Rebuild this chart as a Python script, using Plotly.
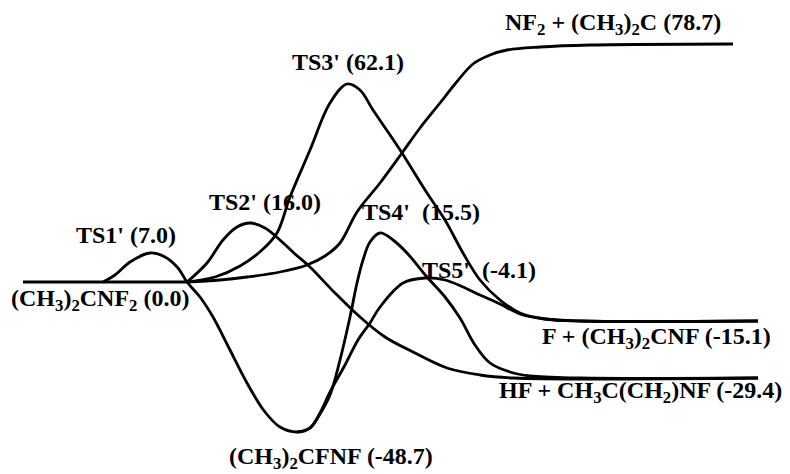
"""
Potential energy profile for the (CH3)2CNF2 reaction paths
(schematic, levels drawn relative to the reactant at 0)
"""

import plotly.graph_objects as go

# reaction coordinate / drawn level of each traced path (reactant level = 0)
base_x = [23, 190]
base_y = [0, 0]

# TS1' -> (CH3)2CFNF well -> TS4' -> HF + CH3C(CH2)NF
ts4_x = [103, 115, 130, 150, 165, 178, 187, 200, 213, 230, 247, 265, 280, 297, 310,
         320, 330, 340, 350, 357, 363, 370, 380, 393, 407, 427, 445, 460, 475, 490,
         510, 530, 580, 758]
ts4_y = [0, 7, 20, 29, 25, 14, 0, -15, -35, -68, -101, -130, -145, -150, -146,
         -132, -113, -78, -35, -1, 22, 40, 49, 42, 29, 5, -15, -36, -63, -81,
         -90, -94, -96, -96]

# reactant -> TS2' -> HF + CH3C(CH2)NF
ts2_x = [187, 207, 223, 237, 250, 265, 280, 295, 310, 335, 360, 385, 413, 447, 480, 513, 758]
ts2_y = [0, 19, 42, 55, 59, 54, 42, 28, 15, -11, -35, -55, -70, -86, -93, -96, -96]

# reactant -> TS3' -> F + (CH3)2CNF
ts3_x = [187, 215, 240, 262, 277, 290, 310, 330, 347, 360, 373, 388, 402, 427, 445,
         463, 480, 500, 520, 545, 580, 758]
ts3_y = [0, 5, 16, 32, 49, 85, 132, 179, 198, 192, 172, 150, 129, 89, 62,
         29, 2, -18, -31, -37, -39, -39]

# reactant -> NF2 + (CH3)2C
nf2_x = [187, 220, 247, 280, 307, 325, 340, 357, 380, 402, 420, 440, 455, 473,
         490, 507, 540, 590, 733]
nf2_y = [0, 2, 5, 10, 17, 26, 39, 70, 99, 129, 154, 179, 198, 218,
         227, 232, 235, 237, 238]

# (CH3)2CFNF well -> TS5' -> F + (CH3)2CNF
ts5_x = [297, 310, 320, 330, 345, 358, 370, 380, 403, 425, 445, 463, 480, 500, 520, 545, 580, 758]
ts5_y = [-150, -146, -131, -110, -83, -58, -41, -25, -1, 4, 2, -5, -13, -22, -32, -37, -39, -39]

# stationary point labels and energies (kcal/mol)
species = [
    "TS1'", "(CH<sub>3</sub>)<sub>2</sub>CNF<sub>2</sub>", "TS2'", "TS3'",
    "NF<sub>2</sub> + (CH<sub>3</sub>)<sub>2</sub>C", "TS4'\u00a0", "TS5'\u00a0",
    "F + (CH<sub>3</sub>)<sub>2</sub>CNF", "HF + CH<sub>3</sub>C(CH<sub>2</sub>)NF",
    "(CH<sub>3</sub>)<sub>2</sub>CFNF",
]
energies = ["7.0", "0.0", "16.0", "62.1", "78.7", "15.5", "-4.1", "-15.1", "-29.4", "-48.7"]

# label anchor (left edge, middle) in plot coordinates
label_pos = [(74, 47), (9, -18), (207, 80), (290, 220), (503, 258), (360, 70),
             (420, 12), (540, -56), (497, -110), (227, -176)]

fig = go.Figure()

for xs, ys in [(base_x, base_y), (ts4_x, ts4_y), (ts2_x, ts2_y),
               (ts3_x, ts3_y), (nf2_x, nf2_y), (ts5_x, ts5_y)]:
    fig.add_trace(
        go.Scatter(
            x=xs,
            y=ys,
            mode="lines",
            line=dict(color="black", width=2.8, shape="spline", smoothing=1.0),
            hoverinfo="skip",
        )
    )

for name, e, (lx, ly) in zip(species, energies, label_pos):
    fig.add_annotation(
        text=f"<b>{name} ({e})</b>",
        x=lx,
        y=ly,
        xref="x",
        yref="y",
        xanchor="left",
        yanchor="middle",
        showarrow=False,
        font=dict(family="Liberation Serif", size=24, color="black"),
    )

# page body has an 8px margin, so the figure is shrunk and the ranges shifted
fig.update_layout(
    width=782,
    height=466,
    margin=dict(l=0, r=0, t=0, b=0),
    paper_bgcolor="white",
    plot_bgcolor="white",
    showlegend=False,
    xaxis=dict(range=[8, 790], visible=False),
    yaxis=dict(range=[-192, 274], visible=False),
)

fig.write_html("out.html")
